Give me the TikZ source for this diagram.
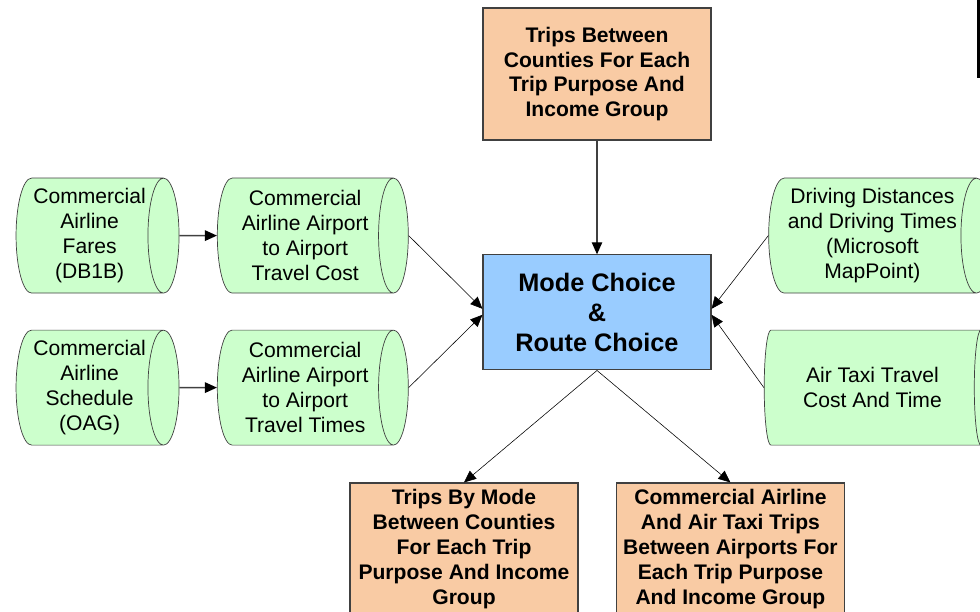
\documentclass[tikz,border=0pt]{standalone}
\usepackage{fontspec}
\setmainfont{Liberation Sans}
\usetikzlibrary{arrows.meta,shapes.geometric,positioning,calc}

\definecolor{storegreen}{RGB}{204,255,204}
\definecolor{peach}{RGB}{249,203,164}
\definecolor{choiceblue}{RGB}{153,204,255}
\definecolor{rim}{RGB}{64,64,64}

\begin{document}
\begin{tikzpicture}
[font=\fontsize{15}{17.7}\selectfont,
store/.style={cylinder,aspect=0.33,draw=rim,fill=storegreen,line width=.5pt,
  minimum width=2.875cm,align=center,inner sep=0pt},
outbox/.style={rectangle,draw=rim,fill=peach,line width=.8pt,align=center,
  minimum width=5.7cm,minimum height=3.3cm,font=\fontsize{15}{17.7}\selectfont\bfseries},
edge/.style={black,>={Triangle[length=3mm,width=2.6mm]},line width=.4pt},
feed/.style={rim,>={Triangle[length=3mm,width=2.6mm,black]},line width=1.2pt}]
%%%%%%%%%%

\useasboundingbox (0,0) rectangle (24.5,-15.3);

% inputs
\node[outbox] (trips) at (14.925,-1.85) {Trips Between\\Counties For Each\\Trip Purpose And\\Income Group};
\node[rectangle,draw=rim,fill=choiceblue,line width=.8pt,align=center,
  minimum width=5.7cm,minimum height=2.875cm,
  font=\fontsize{18}{21.6}\selectfont\bfseries] (mode) at (14.925,-7.81) {Mode Choice\\\&\\Route Choice};

% data stores (minimum height is the length along the axis)
\node[store,minimum height=4.075cm] (fares) at (2.24,-5.89) {Commercial\\Airline\\Fares\\(DB1B)};
\node[store,minimum height=4.775cm] (cost) at (7.63,-5.89) {Commercial\\Airline Airport\\to Airport\\Travel Cost};
\node[store,minimum height=4.075cm] (sched) at (2.24,-9.69) {Commercial\\Airline\\Schedule\\(OAG)};
\node[store,minimum height=4.775cm] (times) at (7.63,-9.69) {Commercial\\Airline Airport\\to Airport\\Travel Times};

\node[store,minimum height=5.585cm] (drive) at (21.81,-5.89) {Driving Distances\\and Driving Times\\(Microsoft\\MapPoint)};
\node[store,minimum height=5.585cm] (taxi) at (21.81,-9.69) {Air Taxi Travel\\Cost And Time};

% outputs
\node[outbox] (bymode) at (11.6,-13.725) {Trips By Mode\\Between Counties\\For Each Trip\\Purpose And Income\\Group};
\node[outbox] (airtrips) at (18.26,-13.725) {Commercial Airline\\And Air Taxi Trips\\Between Airports For\\Each Trip Purpose\\And Income Group};

\draw[feed,->] (fares.east) -- (cost.west);
\draw[feed,->] (sched.east) -- (times.west);
\draw[feed,->,line width=.8pt] (trips) -- (mode);

\draw[edge,->] (cost.east) -- ([yshift=.9mm]mode.west);
\draw[edge,->] (times.east) -- ([yshift=-.6mm]mode.west);
\draw[edge,->] (drive.west) -- ([yshift=.9mm]mode.east);
\draw[edge,->] (taxi.west) -- ([yshift=-.6mm]mode.east);
\draw[edge,->] (mode.south) -- (bymode.north);
\draw[edge,->] (mode.south) -- (airtrips.north);

\draw[black,line width=2pt] (24.46,0) -- (24.46,-1.95);
\end{tikzpicture}
\end{document}
